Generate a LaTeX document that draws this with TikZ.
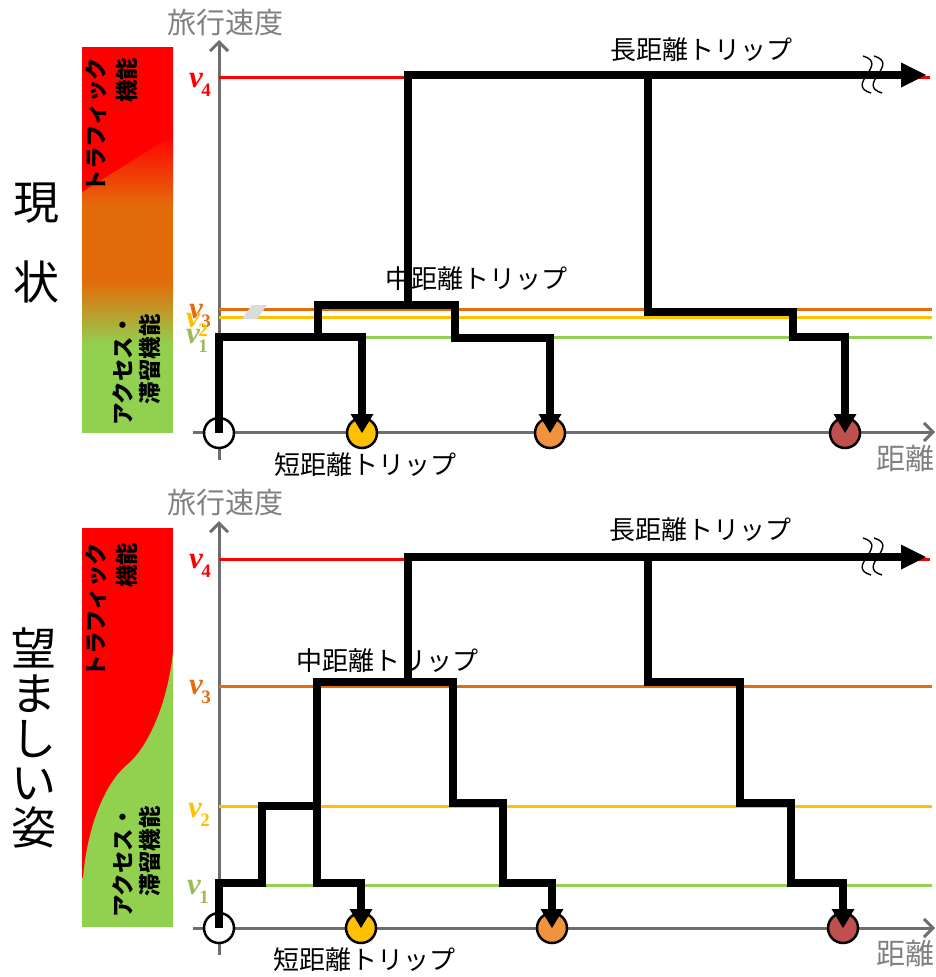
\documentclass[tikz,border=0pt]{standalone}
\usepackage{fontspec}
\usetikzlibrary{arrows.meta}
\newfontfamily\jp{Noto Sans CJK JP}
\newfontfamily\vser{Liberation Serif}
\definecolor{cRed}{HTML}{FF0000}
\definecolor{cOrg}{HTML}{E46C0A}
\definecolor{cYel}{HTML}{FFC000}
\definecolor{cGrn}{HTML}{92D050}
\definecolor{cAx}{HTML}{6E6E6E}
\definecolor{cLbl}{HTML}{808080}
\definecolor{cVg}{HTML}{9BBB59}
\definecolor{cCO}{HTML}{F0923E}
\definecolor{cCR}{HTML}{C0504D}
\definecolor{cBarOrg}{HTML}{E36C0A}
\newcommand\vlab[1]{{\vser\bfseries\itshape\fontsize{31}{31}\selectfont v\kern-1.5pt\raisebox{-9pt}{\upshape\fontsize{19}{19}\selectfont #1}}}
\tikzset{
  axisline/.style={cAx, line width=3pt, -{Straight Barb[width=18pt,length=9pt]}},
  lvl/.style={line width=3pt},
  trip/.style={line width=8pt, black},
  tripdown/.style={trip, -{Triangle[width=23pt,length=19pt,line width=0pt]}},
  tripfar/.style={trip, -{Triangle[width=25pt,length=25pt,line width=0pt]}},
  stop/.style={circle, draw=black, line width=2.5pt, minimum size=30pt, inner sep=0pt},
  barlbl/.style={rotate=90, align=right, inner sep=0pt},
  triplbl/.style={font=\jp\fontsize{26}{26}\selectfont, inner sep=0pt},
  axlbl/.style={font=\jp\fontsize{29}{29}\selectfont, text=cLbl, inner sep=0pt},
  biglbl/.style={align=center, inner sep=0pt},
  squig/.style={line width=1.4pt, black},
}
\begin{document}
\begin{tikzpicture}[x=1pt,y=-1pt]
\useasboundingbox (0,0) rectangle (936,977);

% ================= TOP: 現状 =================
\fill[cRed] (82,47) rectangle (173,135);
\shade[top color=cRed, bottom color=cBarOrg] (82,134) rectangle (173,206);
\fill[cBarOrg] (82,205) rectangle (173,283);
\shade[top color=cBarOrg, bottom color=cGrn] (82,282) rectangle (173,345);
\fill[cGrn] (82,344) rectangle (173,433);
\fill[cRed] (82,47) -- (173,47) -- (173,135) -- (82,192) -- cycle;
\node[barlbl, font=\jp\bfseries\fontsize{22.5}{31}\selectfont] (tTraf) at (112,125) {トラフィック\\機能};
\node[barlbl, font=\jp\bfseries\fontsize{22.5}{27}\selectfont] (tAcc) at (137,370) {アクセス・\\滞留機能};
\node[biglbl, font=\jp\fontsize{46}{80}\selectfont] (tState) at (36,243) {現\\状};

\draw[axisline] (219,460) -- (219,40);
\draw[axisline] (193,432) -- (935,432);
\node[axlbl] (tYlab) at (225,23) {旅行速度};
\node[axlbl] (tXlab) at (905,458) {距離};

\draw[lvl, cRed] (219,77) -- (930,77);
\draw[lvl, cOrg] (219,309) -- (932,309);
\draw[lvl, cYel] (219,317) -- (932,317);
\draw[lvl, cGrn] (219,337) -- (932,337);
\fill[gray!28] (252,305) -- (267,305) -- (257,319) -- (242,319) -- cycle;

\node[text=cRed, inner sep=0pt] (tv4) at (200,85) {\vlab{4}};
\node[text=cOrg, inner sep=0pt] (tv3) at (200,316) {\vlab{3}};
\node[text=cYel, inner sep=0pt] (tv2) at (197,325) {\vlab{2}};
\node[text=cVg, inner sep=0pt] (tv1) at (197,341) {\vlab{1}};

\node[stop, fill=white] (s0) at (219,433) {};
\node[stop, fill=cYel] (s1) at (362,433) {};
\node[stop, fill=cCO] (s2) at (550,433) {};
\node[stop, fill=cCR] (s3) at (845,433) {};

\coordinate (tA) at (219,337);
\coordinate (tB) at (362,337);
\draw[tripdown] (s0.center) -- (tA) -- (tB) -- (s1.center);
\coordinate (tC) at (318,337);
\coordinate (tD) at (318,305);
\coordinate (tE) at (455,305);
\coordinate (tF) at (455,338);
\coordinate (tG) at (550,338);
\draw[tripdown] (tC) -- (tD) -- (tE) -- (tF) -- (tG) -- (s2.center);
\coordinate (tH) at (408,305);
\coordinate (tI) at (408,75);
\coordinate (tEnd) at (926,75);
\draw[tripfar] (tH) -- (tI) -- (tEnd);
\coordinate (tJ) at (648,75);
\coordinate (tK) at (648,312);
\coordinate (tL) at (793,312);
\coordinate (tM) at (793,337);
\coordinate (tN) at (845,337);
\draw[tripdown] (tJ) -- (tK) -- (tL) -- (tM) -- (tN) -- (s3.center);
\draw[squig] (863,56) .. controls (890,64) and (844,85) .. (871,93);
\draw[squig] (874,56) .. controls (901,64) and (855,85) .. (882,93);

\node[triplbl] (tLong) at (701,50) {長距離トリップ};
\node[triplbl] (tMid) at (476,279) {中距離トリップ};
\node[triplbl] (tShort) at (365,465) {短距離トリップ};

% ================= BOTTOM: 望ましい姿 =================
\fill[cRed] (82,528) rectangle (173,927);
\fill[cGrn] (82,927) -- (173,927) -- (173,652) .. controls (168,700) and (150,745) .. (128,764) .. controls (108,780) and (88,820) .. (83,878) -- (82,878) -- cycle;
\node[barlbl, font=\jp\bfseries\fontsize{22.5}{31}\selectfont] (bTraf) at (112,610) {トラフィック\\機能};
\node[barlbl, font=\jp\bfseries\fontsize{22.5}{27}\selectfont] (bAcc) at (137,862) {アクセス・\\滞留機能};
\node[biglbl, font=\jp\fontsize{45}{44.6}\selectfont] (bState) at (34,738) {望\\ま\\し\\い\\姿};

\draw[axisline] (219,955) -- (219,521);
\draw[axisline] (193,928) -- (935,928);
\node[axlbl] (bYlab) at (225,503) {旅行速度};
\node[axlbl] (bXlab) at (905,953) {距離};

\draw[lvl, cRed] (219,559) -- (930,559);
\draw[lvl, cOrg] (219,686) -- (932,686);
\draw[lvl, cYel] (219,806) -- (932,806);
\draw[lvl, cGrn] (219,885) -- (932,885);

\node[text=cRed, inner sep=0pt] (bv4) at (200,566) {\vlab{4}};
\node[text=cOrg, inner sep=0pt] (bv3) at (200,692) {\vlab{3}};
\node[text=cYel, inner sep=0pt] (bv2) at (199,815) {\vlab{2}};
\node[text=cVg, inner sep=0pt] (bv1) at (198,892) {\vlab{1}};

\node[stop, fill=white] (b0) at (219,928) {};
\node[stop, fill=cYel] (b1) at (361,928) {};
\node[stop, fill=cCO] (b2) at (552,928) {};
\node[stop, fill=cCR] (b3) at (843,928) {};

\coordinate (bA) at (219,883);
\coordinate (bB) at (262,883);
\coordinate (bC) at (262,806);
\coordinate (bD) at (317,806);
\coordinate (bE) at (317,883);
\coordinate (bF) at (361,883);
\draw[tripdown] (b0.center) -- (bA) -- (bB) -- (bC) -- (bD) -- (bE) -- (bF) -- (b1.center);
\coordinate (bG) at (317,682);
\coordinate (bH) at (453,682);
\coordinate (bI) at (453,803);
\coordinate (bJ) at (503,803);
\coordinate (bK) at (503,883);
\coordinate (bL) at (552,883);
\draw[tripdown] (bD) -- (bG) -- (bH) -- (bI) -- (bJ) -- (bK) -- (bL) -- (b2.center);
\coordinate (bM) at (408,682);
\coordinate (bN) at (408,557);
\coordinate (bEnd) at (926,557);
\draw[tripfar] (bM) -- (bN) -- (bEnd);
\coordinate (bO) at (648,557);
\coordinate (bP) at (648,682);
\coordinate (bQ) at (740,682);
\coordinate (bR) at (740,803);
\coordinate (bS) at (791,803);
\coordinate (bT) at (791,883);
\coordinate (bU) at (843,883);
\draw[tripdown] (bO) -- (bP) -- (bQ) -- (bR) -- (bS) -- (bT) -- (bU) -- (b3.center);
\draw[squig] (863,538) .. controls (890,546) and (844,567) .. (871,575);
\draw[squig] (874,538) .. controls (901,546) and (855,567) .. (882,575);

\node[triplbl] (bLong) at (700,530) {長距離トリップ};
\node[triplbl] (bMid) at (387,661) {中距離トリップ};
\node[triplbl] (bShort) at (364,960) {短距離トリップ};
\end{tikzpicture}
\end{document}
